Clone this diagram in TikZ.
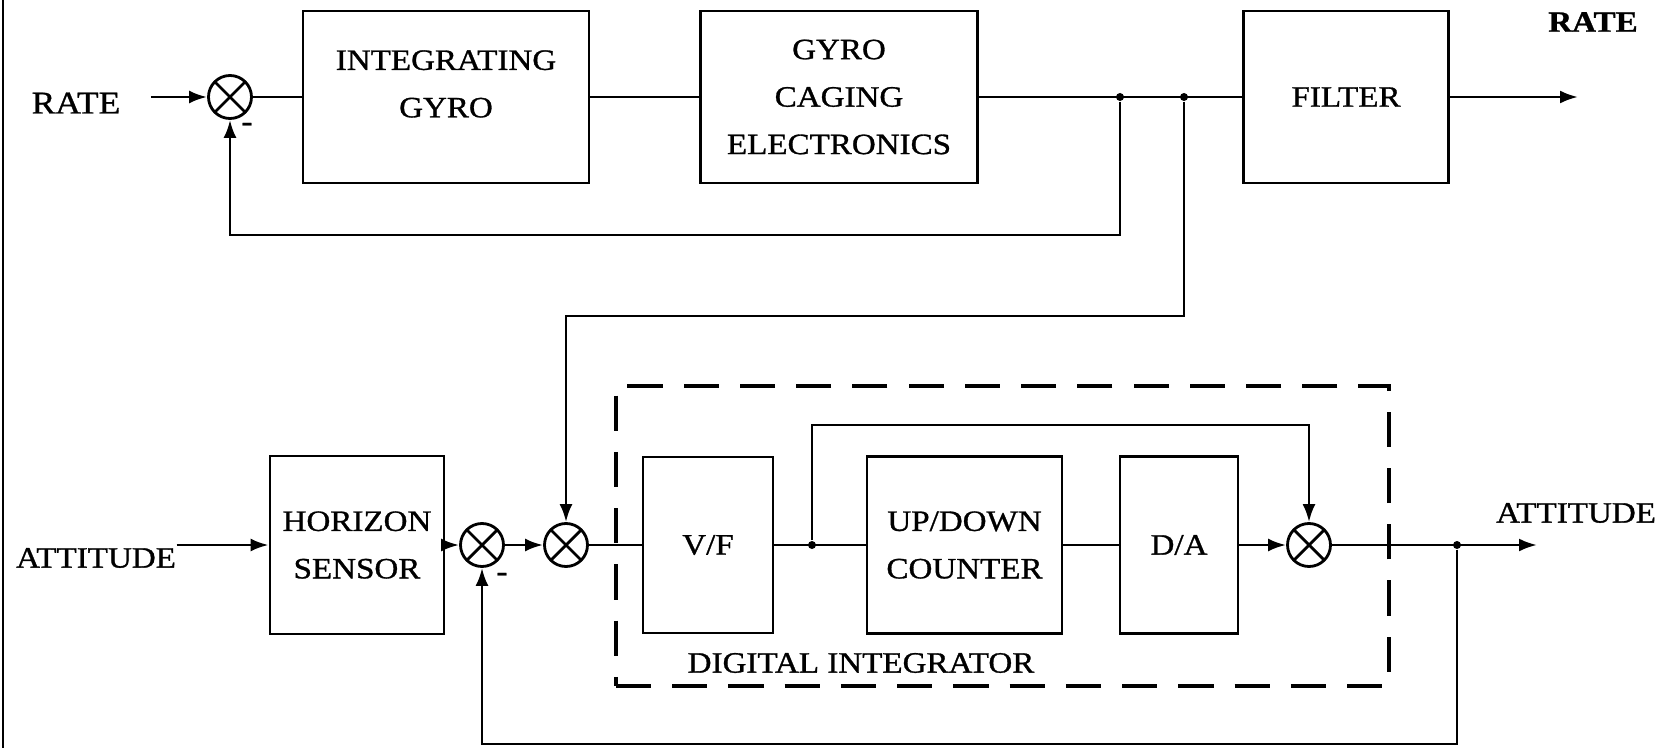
\documentclass[tikz,border=0pt]{standalone}
\usepackage{fontspec}
\setmainfont{Liberation Serif}[FakeStretch=1.12, FakeBold=1]
\usepackage{tikz}
\usetikzlibrary{arrows.meta, positioning, calc}
\newcommand{\blkfont}{\fontsize{8.4}{13.5}\selectfont}
\tikzset{
    % blocks
    blk/.style={rectangle, draw, line width=0.8pt, align=center,
                inner sep=0pt, font=\blkfont},
    intbox/.style={rectangle, draw, line width=1pt, dash pattern=on 10pt off 6pt},
    % summing junctions
    sumnode/.style={circle, draw, line width=0.8pt, minimum size=0.43cm, inner sep=0pt,
                path picture={\draw[line width=0.8pt]
                    (path picture bounding box.north west) -- (path picture bounding box.south east)
                    (path picture bounding box.north east) -- (path picture bounding box.south west);}},
    jdot/.style={circle, fill, inner sep=0pt, minimum size=0.08cm},
    minus/.style={font=\blkfont\bfseries, inner sep=0pt},
    % signals
    sig/.style={font=\blkfont, inner sep=0pt},
    sigline/.style={line width=0.8pt},
    sigarrow/.style={-{Latex[length=1.8mm, width=1.3mm]}, line width=0.8pt},
}
\begin{document}
\begin{tikzpicture}
\useasboundingbox (0,0) rectangle (16.69,-7.48);
\draw[line width=0.5pt] (0.03,0) -- (0.03,-7.48);

% rate loop
\node[sig, font=\fontsize{9}{11}\selectfont] (ratein) at (0.76,-1.03) {RATE};
\node[sumnode] (sum1) at (2.30,-0.97) {};
\node[minus] (m1) at (2.47,-1.27) {-};
\node[blk, minimum width=2.86cm, minimum height=1.72cm] (intgyro) at (4.46,-0.97) {INTEGRATING\\GYRO\\[-6pt]};
\node[blk, minimum width=2.77cm, minimum height=1.72cm] (caging) at (8.39,-0.97) {GYRO\\CAGING\\ELECTRONICS};
\node[jdot] (dot1) at (11.20,-0.97) {};
\node[jdot] (dot2) at (11.84,-0.97) {};
\node[blk, minimum width=2.05cm, minimum height=1.72cm] (filter) at (13.46,-0.97) {FILTER};
\coordinate (rateend) at (15.78,-0.97);
\node[sig, font=\blkfont\bfseries] (rateout) at (15.93,-0.22) {RATE};

\draw[sigarrow, shorten <=0.3cm] (ratein.east |- sum1.west) -- (sum1.west);
\draw[sigline] (sum1) -- (intgyro);
\draw[sigline] (intgyro) -- (caging);
\draw[sigline] (caging) -- (filter);
\draw[sigarrow] (filter) -- (rateend);
\draw[sigarrow] (dot1) -- ++(0,-1.38) -| (sum1.south);

% attitude loop
\node[sig] (attin) at (0.96,-5.58) {ATTITUDE};
\node[blk, minimum width=1.74cm, minimum height=1.78cm] (horizon) at (3.57,-5.45) {HORIZON\\SENSOR};
\node[sumnode] (sum2) at (4.82,-5.45) {};
\node[minus] (m2) at (5.02,-5.77) {-};
\node[sumnode] (sum3) at (5.66,-5.45) {};
\node[intbox, minimum width=7.73cm, minimum height=3.0cm] (digint) at (10.025,-5.36) {};
\node[sig] (diglabel) at (8.61,-6.63) {DIGITAL INTEGRATOR};
\node[blk, minimum width=1.30cm, minimum height=1.76cm] (vf) at (7.08,-5.45) {V/F};
\node[jdot] (dot3) at (8.12,-5.45) {};
\node[blk, minimum width=1.95cm, minimum height=1.77cm] (counter) at (9.645,-5.45) {UP/DOWN\\COUNTER};
\node[blk, minimum width=1.18cm, minimum height=1.77cm] (da) at (11.79,-5.45) {D/A};
\node[sumnode] (sum4) at (13.09,-5.45) {};
\node[jdot] (dot4) at (14.57,-5.45) {};
\coordinate (attend) at (15.37,-5.45);
\node[sig] (attout) at (15.76,-5.13) {ATTITUDE};

\draw[sigarrow] (attin.east |- horizon.west) -- (horizon.west);
\draw[sigarrow] (horizon) -- (sum2);
\draw[sigarrow] (sum2) -- (sum3);
\draw[sigline] (sum3) -- (vf);
\draw[sigline] (vf) -- (counter);
\draw[sigline] (counter) -- (da);
\draw[sigarrow] (da) -- (sum4);
\draw[sigarrow] (sum4) -- (attend);
\draw[sigarrow] (dot3) -- ++(0,1.20) -| (sum4.north);
\draw[sigarrow] (dot4) -- ++(0,-1.99) -| (sum2.south);

% gyro rate into attitude loop
\draw[sigarrow] (dot2) -- ++(0,-2.19) -| (sum3.north);
\end{tikzpicture}
\end{document}
